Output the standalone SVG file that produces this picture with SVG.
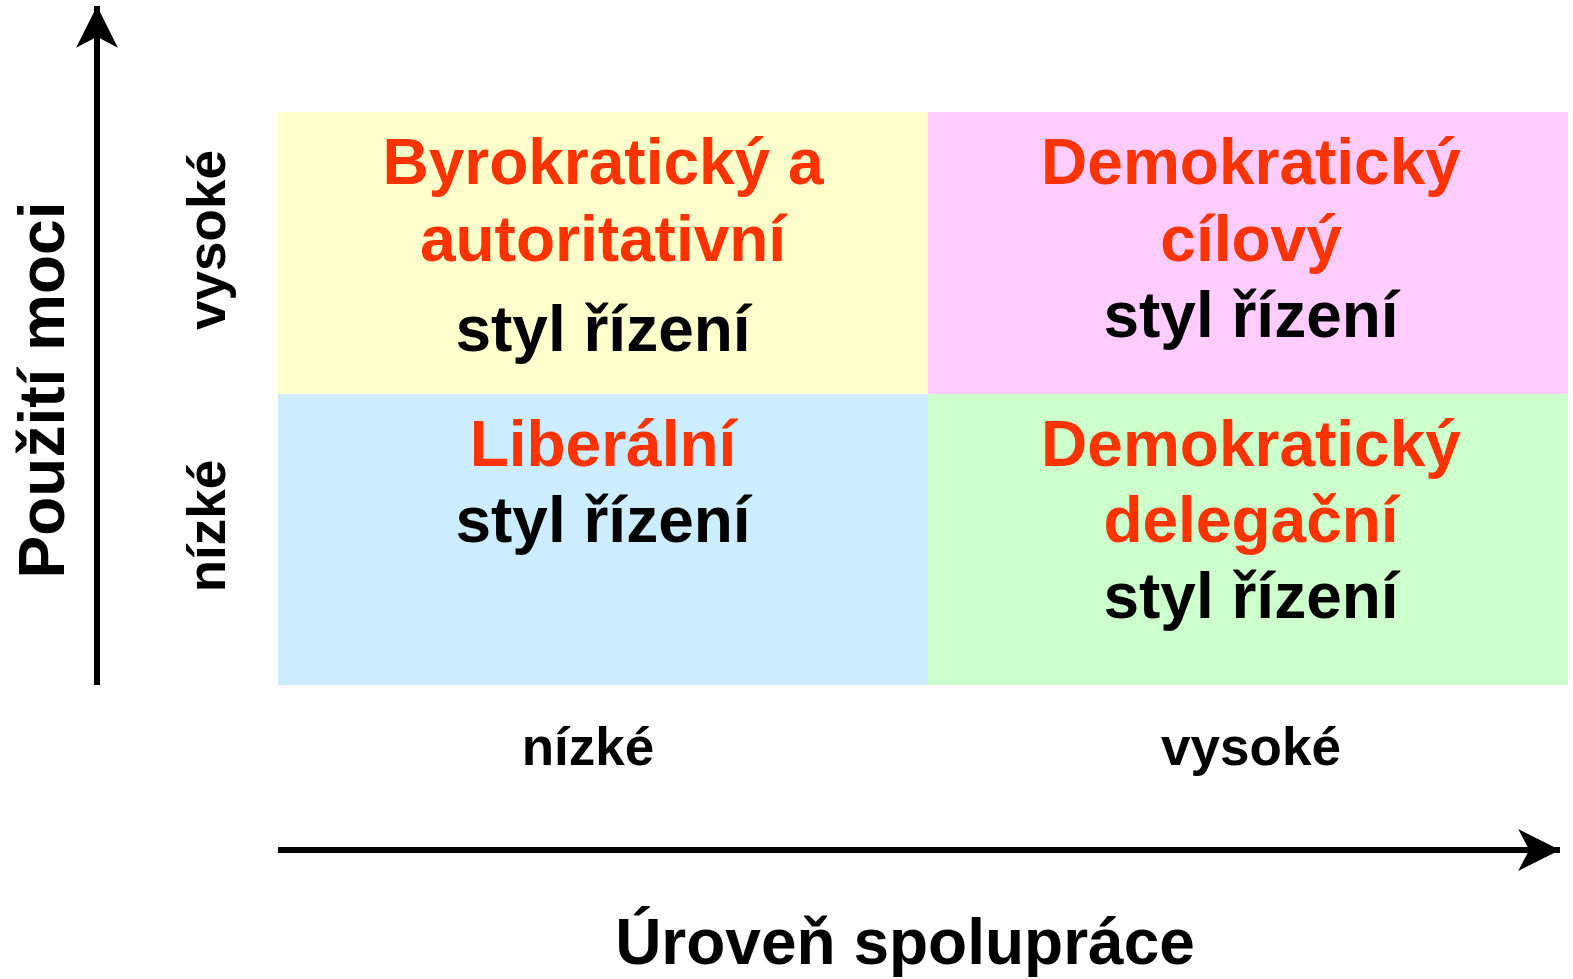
<svg xmlns="http://www.w3.org/2000/svg" width="1573" height="979" viewBox="0 0 1573 979">
<style>
text{font-family:"Liberation Sans",Arial,sans-serif;font-weight:bold;text-anchor:middle}
.t{fill:#FF3300;font-size:64px}
.s{fill:#000;font-size:64px}
.a{fill:#000;font-size:53px}
.h{fill:#000;font-size:64px}
</style>
<defs>
<marker id="arr" markerUnits="userSpaceOnUse" markerWidth="44" markerHeight="44" viewBox="0 0 40 40" refX="38" refY="20" orient="auto">
<path d="M0,1 L38,20 L0,39 L10,20 Z" fill="#000"/>
</marker>
</defs>
<g id="q-tl"><rect x="278" y="112" width="650" height="282" fill="#FFFFCC"/>
<text class="t" x="603" y="184">Byrokratický a</text>
<text class="t" x="603" y="261">autoritativní</text>
<text class="s" x="603" y="351">styl řízení</text></g>
<g id="q-tr"><rect x="928" y="112" width="640" height="282" fill="#FFCCFF"/>
<text class="t" x="1251" y="184">Demokratický</text>
<text class="t" x="1251" y="261">cílový</text>
<text class="s" x="1251" y="337">styl řízení</text></g>
<g id="q-bl"><rect x="278" y="394" width="650" height="291" fill="#CCECFF"/>
<text class="t" x="603" y="466">Liberální</text>
<text class="s" x="603" y="542">styl řízení</text></g>
<g id="q-br"><rect x="928" y="394" width="640" height="291" fill="#CCFFCC"/>
<text class="t" x="1251" y="466">Demokratický</text>
<text class="t" x="1251" y="542">delegační</text>
<text class="s" x="1251" y="618">styl řízení</text></g>
<g id="labels">
<text class="a" x="588" y="765">nízké</text>
<text class="a" x="1251" y="765">vysoké</text>
<text class="h" x="905" y="964">Úroveň spolupráce</text>
<text class="h" transform="translate(64,390) rotate(-90)">Použití moci</text>
<text class="a" transform="translate(225,240) rotate(-90)">vysoké</text>
<text class="a" transform="translate(225,526) rotate(-90)">nízké</text>
</g>
<g id="connectors" stroke="#000" stroke-width="6" fill="none">
<line x1="97" y1="685" x2="97" y2="6" marker-end="url(#arr)"/>
<line x1="278" y1="850" x2="1560" y2="850" marker-end="url(#arr)"/>
</g>
</svg>
